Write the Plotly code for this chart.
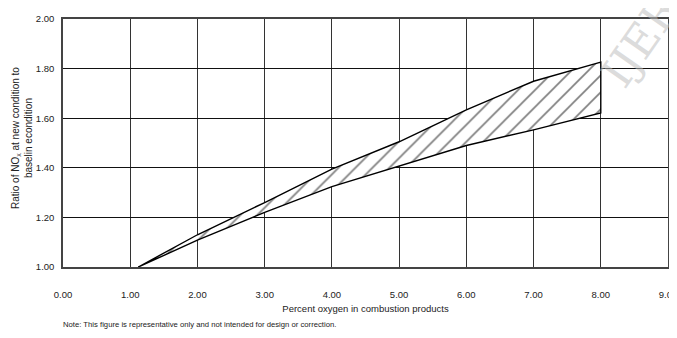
import plotly.graph_objects as go

# Data
oxygen_pct = [1.12, 2.0, 3.0, 4.0, 5.0, 6.0, 7.0, 8.0]
upper_ratio = [1.00, 1.13, 1.26, 1.395, 1.505, 1.634, 1.749, 1.826]
lower_ratio = [1.00, 1.108, 1.22, 1.324, 1.407, 1.49, 1.553, 1.621]

x_ticks = [0, 1, 2, 3, 4, 5, 6, 7, 8, 9]
x_tick_labels = ["%.2f" % v for v in x_ticks]
y_ticks = [1.0, 1.2, 1.4, 1.6, 1.8, 2.0]
y_tick_labels = ["%.2f" % v for v in y_ticks]

FONT = "Liberation Sans Narrow, Arial Narrow, Liberation Sans, Arial"

# Closed band: upper curve out, lower curve back
band_x = oxygen_pct + oxygen_pct[::-1]
band_y = upper_ratio + lower_ratio[::-1]

fig = go.Figure()
fig.add_trace(go.Scatter(
    x=band_x, y=band_y, mode="lines", fill="toself",
    fillcolor="white",
    fillpattern=dict(shape="/", size=12, solidity=0.14, fgcolor="black", bgcolor="white"),
    line=dict(color="black", width=1.4),
    showlegend=False, hoverinfo="skip",
))

# The page body has an 8px margin, so the figure is sized to 669x330
fig.update_layout(
    width=669, height=330,
    margin=dict(l=55, r=9, t=11, b=71, autoexpand=False),
    paper_bgcolor="white", plot_bgcolor="white",
    font=dict(family=FONT, size=9, color="#222"),
    xaxis=dict(
        range=[0, 9], tickvals=x_ticks, ticktext=x_tick_labels,
        showgrid=True, gridcolor="#333", gridwidth=1.3,
        showline=True, linecolor="#444", linewidth=1.5, mirror=True,
        zeroline=False, ticks="", ticklabelstandoff=18, automargin=False,
        ticklabeloverflow="allow",
        tickfont=dict(family=FONT, size=9.5, color="#222"),
        title=dict(text="Percent oxygen in combustion products", standoff=6,
                   font=dict(family=FONT, size=9.5, color="#222")),
    ),
    yaxis=dict(
        range=[1, 2], tickvals=y_ticks, ticktext=y_tick_labels,
        showgrid=True, gridcolor="#111", gridwidth=1.3,
        showline=True, linecolor="#444", linewidth=1.5, mirror=True,
        zeroline=False, ticks="", ticklabelstandoff=5, automargin=False,
        tickfont=dict(family=FONT, size=9.5, color="#222"),
    ),
    annotations=[
        dict(text="Ratio of NO<sub>x</sub> at new condition to<br>baselin econdition",
             xref="paper", yref="paper", x=0, y=0.52, xanchor="center", yanchor="middle",
             xshift=-41, textangle=-90, showarrow=False,
             font=dict(family="Liberation Sans, Arial", size=10, color="#222")),
        dict(text="Note: This figure is representative only and not intended for design or correction.",
             xref="paper", yref="paper", x=0, y=0, xanchor="left", yanchor="middle",
             xshift=-2, yshift=-57, showarrow=False,
             font=dict(family=FONT, size=7.7, color="#222")),
        dict(text="IJERT", xref="paper", yref="paper", x=1, y=1,
             xanchor="center", yanchor="middle", xshift=-20, yshift=-10,
             textangle=-55, showarrow=False,
             font=dict(family="DejaVu Serif, Liberation Serif", size=44, color="rgba(190,190,190,0.55)")),
    ],
)

fig.write_html("out.html")
